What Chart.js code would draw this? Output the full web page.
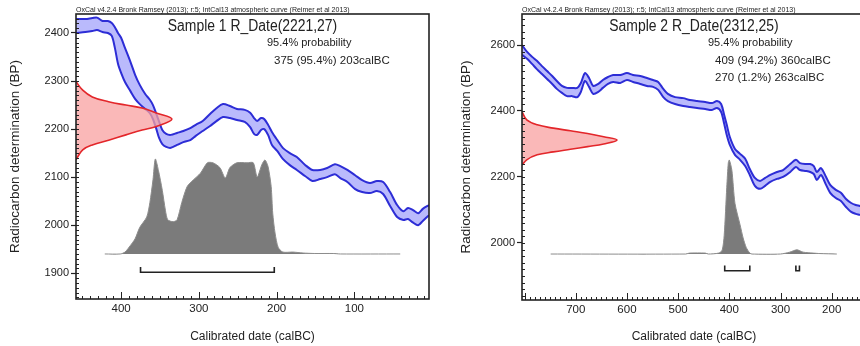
<!DOCTYPE html>
<html>
<head>
<meta charset="utf-8">
<script src="https://cdn.jsdelivr.net/npm/chart.js@4.4.0/dist/chart.umd.min.js"></script>
<style>
  html, body { margin: 0; padding: 0; background: #fff; overflow: hidden; width: 860px; height: 346px; }
  canvas { position: absolute; top: 0; }
  #c1 { left: 0; }
  #c2 { left: 430px; }
</style>
</head>
<body>
<canvas id="c1" width="430" height="346" style="width:430px;height:346px"></canvas>
<canvas id="c2" width="440" height="346" style="width:440px;height:346px"></canvas>
<script>
const header = 'OxCal v4.2.4 Bronk Ramsey (2013); r:5; IntCal13 atmospheric curve (Reimer et al 2013)';

// Sample 1: R_Date(2221,27)
const name1 = 'Sample 1', bp1 = 2221, sd1 = 27;
const curveYears1 = [458,446,437,431,424,417,412,408,404,400,395,388,382,376,369,363,359,355,351,347,342,336,328,320,311,304,295,286,277,269,260,251,241,234,229,225,220,216,211,206,199,192,183,174,163,154,144,135,125,118,109,99,90,80,71,63,54,45,37,31,25,18,12,4];
const curveHigh1 = [2429,2429,2431,2432,2425,2425,2421,2412,2400,2390,2369,2340,2313,2292,2273,2261,2250,2233,2215,2198,2190,2188,2192,2196,2202,2209,2217,2231,2244,2252,2248,2242,2240,2234,2223,2217,2223,2221,2209,2194,2177,2161,2150,2142,2125,2115,2115,2119,2127,2123,2115,2104,2094,2088,2092,2090,2069,2042,2029,2036,2032,2025,2034,2042];
const curveLow1 = [2400,2402,2404,2406,2402,2400,2394,2369,2336,2317,2298,2279,2263,2252,2242,2233,2221,2202,2181,2169,2163,2161,2167,2173,2177,2186,2196,2206,2217,2225,2223,2219,2215,2204,2190,2188,2198,2200,2188,2167,2154,2138,2125,2115,2102,2092,2096,2100,2106,2098,2090,2075,2069,2067,2071,2065,2040,2017,2011,2013,2006,2000,2009,2021];
const dateBP1 = [2299,2281,2267,2257,2250,2244,2234,2221,2205,2198,2188,2177,2167,2157,2143,2136];
const dateProb1 = [0,0.07,0.17,0.34,0.52,0.69,0.83,1,0.83,0.69,0.52,0.34,0.17,0.07,0.02,0];
const calYears1 = [421,401,395,388,382,376,367,363,359,356,352,347,343,340,333,328,322,315,307,298,289,282,273,266,260,251,238,230,225,219,215,211,207,205,202,198,192,179,166,151,127,118,41];
const calProb1 = [0,0,0.02,0.09,0.16,0.28,0.39,0.54,0.78,1,0.88,0.67,0.46,0.36,0.34,0.36,0.54,0.71,0.78,0.85,0.96,0.96,0.91,0.80,0.91,0.96,0.96,0.96,0.81,0.94,0.99,0.92,0.71,0.43,0.22,0.07,0.02,0.02,0.01,0.005,0.005,0,0];
const ranges1 = [[375, 203, 95.4]];
const xTicks1 = [400, 300, 200, 100];
const yTicks1 = [1900, 2000, 2100, 2200, 2300, 2400];

// Sample 2: R_Date(2312,25)
const name2 = 'Sample 2', bp2 = 2312, sd2 = 25;
const curveYears2 = [805,795,785,776,766,756,746,737,727,717,707,697,690,682,674,666,656,647,637,627,613,600,588,574,561,549,539,529,520,506,490,477,463,447,434,424,416,410,405,399,389,379,369,360,350,340,330,320,307,295,281,270,262,250,242,235,229,221,211,203,192,182,172,162,153,145,133];
const curveHigh2 = [2600,2579,2564,2552,2536,2521,2506,2491,2476,2470,2470,2470,2485,2515,2500,2476,2482,2494,2503,2509,2509,2515,2509,2506,2500,2494,2488,2467,2452,2442,2439,2433,2430,2427,2424,2430,2421,2388,2358,2321,2285,2270,2255,2224,2197,2188,2197,2206,2215,2221,2239,2252,2242,2239,2239,2233,2215,2227,2200,2176,2161,2152,2133,2121,2115,2112,2106];
const curveLow2 = [2570,2558,2542,2527,2512,2497,2482,2467,2455,2445,2445,2442,2458,2491,2473,2452,2458,2470,2482,2488,2485,2494,2488,2482,2476,2473,2464,2442,2430,2421,2415,2412,2409,2406,2403,2409,2397,2361,2327,2297,2267,2252,2233,2206,2173,2164,2173,2185,2194,2200,2215,2230,2221,2218,2215,2209,2191,2206,2176,2152,2136,2127,2109,2094,2088,2085,2079];
const dateBP2 = [2398,2373,2358,2348,2340,2332,2322,2312,2300,2292,2284,2276,2267,2252,2236];
const dateProb2 = [0,0.05,0.16,0.33,0.51,0.69,0.86,1,0.86,0.69,0.51,0.33,0.16,0.05,0];
const calYears2 = [749,485,478,447,441,421,414,410,405,402,400,395,389,379,373,367,360,356,300,282,268,256,236,223,190];
const calProb2 = [0,0,0.01,0.01,0,0.01,0.04,0.20,0.71,0.97,1,0.89,0.54,0.31,0.17,0.07,0.01,0,0,0.02,0.045,0.02,0.01,0.005,0];
const ranges2 = [[409, 360, 94.2], [270, 263, 1.2]];
const xTicks2 = [700, 600, 500, 400, 300, 200];
const yTicks2 = [2000, 2200, 2400, 2600];

const FONT = '"Liberation Sans", Arial, Helvetica, sans-serif';
const INK = '#222';

// frame, inward ticks and the OxCal captions
const oxcalDecor = {
  id: 'oxcalDecor',
  afterDatasetsDraw(chart, args, o) {
    const {ctx, chartArea: a, scales} = chart;
    const xs = scales.x, ys = scales.y;
    ctx.save();
    ctx.strokeStyle = INK;
    ctx.lineWidth = 1;
    ctx.beginPath();
    for (let v = Math.ceil(xs.min / o.xMinor) * o.xMinor; v <= xs.max; v += o.xMinor) {
      const px = Math.round(xs.getPixelForValue(v)) + 0.5;
      const len = v % 100 === 0 ? 7 : 3;
      ctx.moveTo(px, a.bottom);
      ctx.lineTo(px, a.bottom - len);
    }
    for (let v = Math.ceil(ys.min / o.yMinor) * o.yMinor; v <= ys.max; v += o.yMinor) {
      const py = Math.round(ys.getPixelForValue(v)) + 0.5;
      ctx.moveTo(a.left, py);
      ctx.lineTo(a.left + 3, py);
    }
    ctx.stroke();
    ctx.lineWidth = 1.6;
    ctx.strokeRect(a.left, a.top, a.right - a.left, a.bottom - a.top);

    ctx.fillStyle = INK;
    ctx.textBaseline = 'alphabetic';
    ctx.font = '7px ' + FONT;
    ctx.textAlign = 'left';
    ctx.fillText(header, a.left, a.top - 2);

    // the title is set in a slightly condensed face
    ctx.textBaseline = 'middle';
    ctx.textAlign = 'center';
    ctx.font = '16px ' + FONT;
    ctx.save();
    ctx.translate((a.left + a.right) / 2, 27);
    ctx.scale(0.87, 1);
    ctx.fillText(o.name + ' R_Date(' + o.bp + ',' + o.sd + ')', 0, 0);
    ctx.restore();

    ctx.textAlign = 'left';
    ctx.font = '11px ' + FONT;
    ctx.fillText('95.4% probability', o.textX, 43);
    ctx.font = '11.5px ' + FONT;
    o.ranges.forEach((r, i) => {
      ctx.fillText(r[0] + ' (' + r[2] + '%) ' + r[1] + 'calBC', o.textX + 7, 61 + i * 16.5);
    });
    ctx.restore();
  }
};

function buildPanel(id, p) {
  const pts = (xs, ys) => xs.map((x, i) => ({x: x, y: ys[i]}));
  const datasets = [
    { // measured radiocarbon date, hanging off the y axis
      data: p.dateBP.map((b, i) => ({x: p.dateProb[i], y: b})),
      indexAxis: 'y', xAxisID: 'xp', yAxisID: 'y',
      borderColor: '#e3262a', borderWidth: 1.6,
      backgroundColor: 'rgba(248,160,160,0.75)', fill: 'origin', tension: 0.4
    },
    { // calibrated distribution
      data: pts(p.calYears, p.calProb),
      xAxisID: 'x', yAxisID: 'yp',
      borderColor: '#8c8c8c', borderWidth: 1,
      backgroundColor: '#7b7b7b', fill: 'origin', tension: 0.25
    }
  ];
  p.ranges.forEach(r => {
    datasets.push({
      data: [{x: r[0], y: p.barLevel + 0.055}, {x: r[0], y: p.barLevel}, {x: r[1], y: p.barLevel}, {x: r[1], y: p.barLevel + 0.055}],
      xAxisID: 'x', yAxisID: 'yp',
      borderColor: INK, borderWidth: 1.6, fill: false, tension: 0
    });
  });
  datasets.push(
    {
      data: pts(p.curveYears, p.curveHigh),
      xAxisID: 'x', yAxisID: 'y',
      borderColor: '#2d2dd6', borderWidth: 2, fill: false, tension: 0.3
    },
    {
      data: pts(p.curveYears, p.curveLow),
      xAxisID: 'x', yAxisID: 'y',
      borderColor: '#2d2dd6', borderWidth: 2,
      backgroundColor: 'rgba(140,140,250,0.6)', fill: '-1', tension: 0.3
    }
  );

  return new Chart(document.getElementById(id), {
    type: 'line',
    data: {datasets: datasets},
    plugins: [oxcalDecor],
    options: {
      responsive: false,
      animation: false,
      devicePixelRatio: 1,
      layout: {padding: {top: 14, right: p.padRight, left: 0, bottom: 0}},
      elements: {point: {radius: 0}},
      plugins: {
        legend: {display: false},
        tooltip: {enabled: false},
        oxcalDecor: {name: p.name, bp: p.bp, sd: p.sd, ranges: p.ranges, textX: p.textX, xMinor: 10, yMinor: p.yMinor}
      },
      scales: {
        x: {
          type: 'linear', position: 'bottom', reverse: true, min: p.xMin, max: p.xMax,
          afterBuildTicks: s => { s.ticks = p.xTicks.map(v => ({value: v})); },
          afterFit: s => { s.height = p.xHeight; },
          grid: {drawOnChartArea: false, drawTicks: false},
          border: {display: false},
          ticks: {autoSkip: false, maxRotation: 0, padding: 3, color: INK, font: {family: FONT, size: 11.5}, callback: v => String(v)},
          title: {display: true, text: 'Calibrated date (calBC)', color: INK, font: {family: FONT, size: 12}, padding: {top: 0, bottom: 2}}
        },
        y: {
          type: 'linear', position: 'left', min: p.yMin, max: p.yMax,
          afterBuildTicks: s => { s.ticks = p.yTicks.map(v => ({value: v})); },
          afterFit: s => { s.width = p.yWidth; },
          grid: {drawOnChartArea: false, drawTicks: true, tickLength: 5, tickColor: INK, tickWidth: 1.2},
          border: {display: false},
          ticks: {autoSkip: false, padding: 2, color: INK, font: {family: FONT, size: 11}, callback: v => String(v)},
          title: {display: true, text: 'Radiocarbon determination (BP)', color: INK, font: {family: FONT, size: 13.5}, padding: {top: p.yTitlePad, bottom: 0}}
        },
        xp: {type: 'linear', axis: 'x', display: false, min: 0, max: p.probMax},
        yp: {type: 'linear', axis: 'y', display: false, min: p.ypMin, max: p.ypMax}
      }
    }
  });
}

buildPanel('c1', {
  name: name1, bp: bp1, sd: sd1,
  curveYears: curveYears1, curveHigh: curveHigh1, curveLow: curveLow1,
  dateBP: dateBP1, dateProb: dateProb1, calYears: calYears1, calProb: calProb1,
  ranges: ranges1, xTicks: xTicks1, yTicks: yTicks1,
  xMin: 4, xMax: 458, yMin: 1846.5, yMax: 2439.5, yMinor: 10,
  probMax: 3.68, ypMin: -0.474, ypMax: 2.526, barLevel: -0.193,
  yWidth: 76, xHeight: 47, padRight: 1, yTitlePad: 7, textX: 267
});

buildPanel('c2', {
  name: name2, bp: bp2, sd: sd2,
  curveYears: curveYears2, curveHigh: curveHigh2, curveLow: curveLow2,
  dateBP: dateBP2, dateProb: dateProb2, calYears: calYears2, calProb: calProb2,
  ranges: ranges2, xTicks: xTicks2, yTicks: yTicks2,
  xMin: 133, xMax: 805, yMin: 1827, yMax: 2694, yMinor: 20,
  probMax: 3.62, ypMin: -0.489, ypMax: 2.553, barLevel: -0.178,
  yWidth: 92, xHeight: 46, padRight: 4, yTitlePad: 28, textX: 278
});
</script>
</body>
</html>
